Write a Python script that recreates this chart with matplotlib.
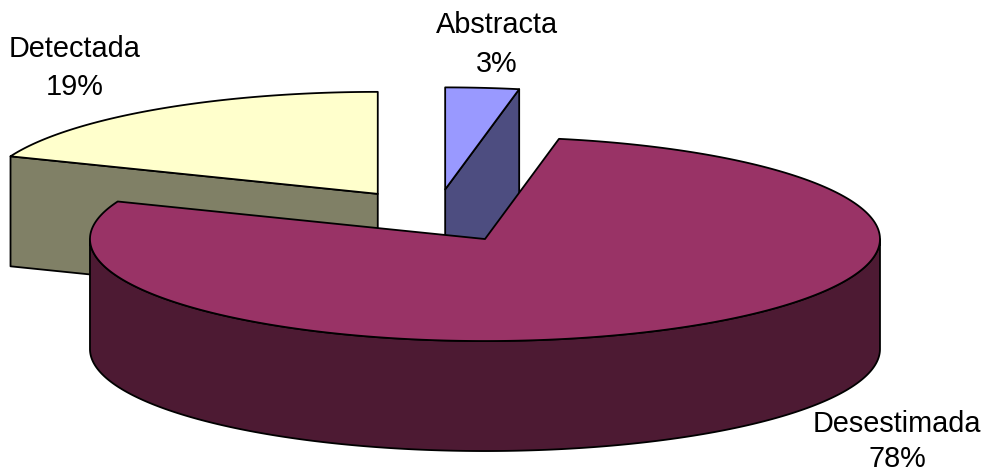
import numpy as np
import matplotlib.pyplot as plt
from matplotlib.patches import Polygon

labels      = ['Abstracta', 'Desestimada', 'Detectada']
values      = [3, 78, 19]
pct_labels  = ['3%', '78%', '19%']
top_colors  = ['#9999FF', '#993366', '#FFFFCC']
side_colors = ['#4D4D80', '#4D1A33', '#808066']

# label positions (pixels, name baseline / percent baseline)
label_pos   = [(497, 33, 72), (897, 432, 467), (75, 57, 95)]

# pie layout in pixel space
cx, cy  = 435.5, 215.8   # centre before explode
a, b    = 395, 102       # ellipse semi axes
h       = 110            # thickness
explode = 0.26

fig = plt.figure(figsize=(9.89, 4.72), dpi=100)
ax = fig.add_axes([0, 0, 1, 1])
ax.set_xlim(0, 989)
ax.set_ylim(472, 0)
ax.axis('off')

def pt(ox, oy, phi, r=1.0, z=0.0):
    # phi in degrees, clockwise from 12 o'clock
    t = np.radians(phi)
    return (ox + r * a * np.sin(t), oy - r * b * np.cos(t) + z)

def arc(ox, oy, p1, p2, z=0.0):
    n = max(int(abs(p2 - p1) * 2), 2)
    return [pt(ox, oy, p, 1.0, z) for p in np.linspace(p1, p2, n)]

def face(points, color):
    ax.add_patch(Polygon(points, closed=True, facecolor=color, edgecolor='black',
                         linewidth=1.3, joinstyle='round'))

total = float(sum(values))
starts = np.cumsum([0] + values[:-1]) / total * 360
ends = np.cumsum(values) / total * 360

slices = []
for i in range(len(values)):
    mid = (starts[i] + ends[i]) / 2
    ox, oy = pt(cx, cy, mid, explode)
    slices.append((oy, i, ox))

# back to front
for oy, i, ox in sorted(slices):
    s, e = starts[i], ends[i]
    apex = (ox, oy)
    # cut faces
    if np.sin(np.radians(s)) < -1e-6:
        p = pt(ox, oy, s)
        face([apex, p, (p[0], p[1] + h), (ox, oy + h)], side_colors[i])
    if np.sin(np.radians(e)) > 1e-6:
        p = pt(ox, oy, e)
        face([apex, p, (p[0], p[1] + h), (ox, oy + h)], side_colors[i])
    # outer wall (front half)
    w1, w2 = max(s, 90), min(e, 270)
    if w2 > w1:
        face(arc(ox, oy, w1, w2) + arc(ox, oy, w2, w1, h), side_colors[i])
    # top
    face([apex] + arc(ox, oy, s, e), top_colors[i])

for i in range(len(values)):
    x, y1, y2 = label_pos[i]
    ax.text(x, y1, labels[i], ha='center', va='baseline', fontsize=20.8,
            family='Liberation Sans')
    ax.text(x, y2, pct_labels[i], ha='center', va='baseline', fontsize=20.8,
            family='Liberation Sans')

fig.savefig('out.png', dpi=100)
